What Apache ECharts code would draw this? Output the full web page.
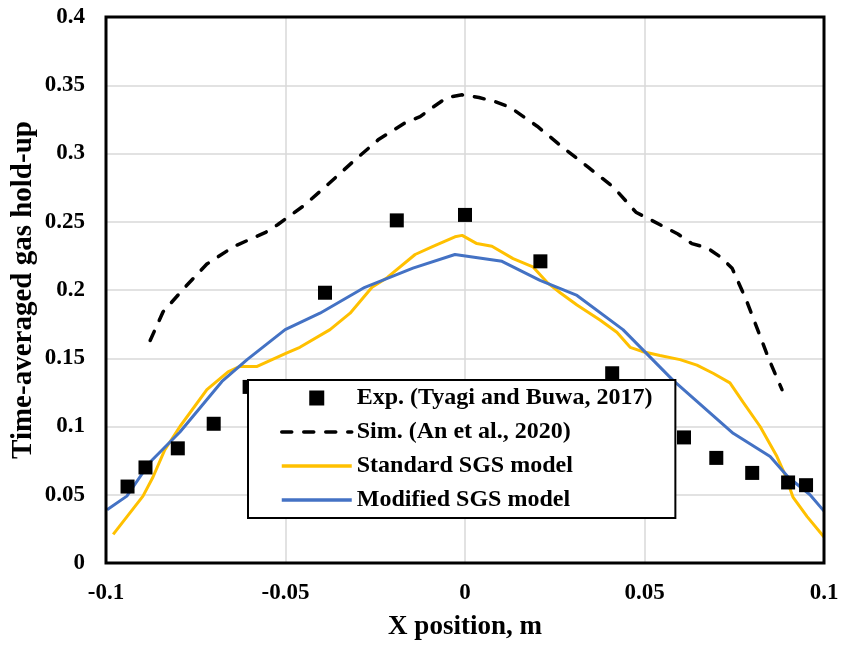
<!DOCTYPE html>
<html>
<head>
<meta charset="utf-8">
<script src="https://cdn.jsdelivr.net/npm/echarts@6/dist/echarts.min.js"></script>
<style>
  html, body { margin: 0; padding: 0; background: #fff; }
  #chart { width: 843px; height: 647px; }
</style>
</head>
<body>
<div id="chart"></div>
<script>
// Experimental gas hold-up profile (Tyagi and Buwa, 2017)
const expX = [-0.094, -0.089, -0.080, -0.070, -0.060, -0.039, -0.019, 0.000, 0.021, 0.041, 0.061, 0.070, 0.080, 0.090, 0.095];
const expY = [0.056, 0.070, 0.084, 0.102, 0.129, 0.198, 0.251, 0.255, 0.221, 0.139, 0.092, 0.077, 0.066, 0.059, 0.057];

// Earlier simulation (An et al., 2020)
const simX = [-0.0877, -0.0841, -0.0780, -0.0719, -0.0643, -0.0557, -0.0521, -0.0448, -0.0379, -0.0312, -0.0242, -0.0170, -0.0125, -0.0089, -0.0050, -0.0008,
              0.0039, 0.0084, 0.0125, 0.0201, 0.0270, 0.0343, 0.0415, 0.0476, 0.0513, 0.0593, 0.0632, 0.0674, 0.0713, 0.0744, 0.0783, 0.0847, 0.0883];
const simY = [0.163, 0.184, 0.202, 0.219, 0.232, 0.242, 0.248, 0.262, 0.278, 0.294, 0.310, 0.322, 0.327, 0.334, 0.341, 0.343,
              0.341, 0.338, 0.334, 0.320, 0.305, 0.290, 0.275, 0.257, 0.252, 0.241, 0.234, 0.231, 0.224, 0.216, 0.193, 0.149, 0.127];

// Standard SGS model
const stdX = [-0.0980, -0.0897, -0.0869, -0.0836, -0.0794, -0.0719, -0.0660, -0.0627, -0.0579, -0.0496, -0.0460, -0.0376, -0.0320, -0.0259, -0.0217, -0.0139, -0.0089, -0.0028, -0.0008,
              0.0033, 0.0075, 0.0134, 0.0189, 0.0231, 0.0265, 0.0312, 0.0376, 0.0423, 0.0460, 0.0493, 0.0543, 0.0599, 0.0646, 0.0691, 0.0738, 0.0774, 0.0822, 0.0869, 0.0891, 0.0914, 0.0953, 0.1000];
const stdY = [0.021, 0.049, 0.063, 0.083, 0.100, 0.127, 0.140, 0.144, 0.144, 0.154, 0.158, 0.171, 0.183, 0.202, 0.209, 0.226, 0.232, 0.239, 0.240,
              0.234, 0.232, 0.223, 0.217, 0.205, 0.198, 0.189, 0.178, 0.169, 0.158, 0.155, 0.152, 0.149, 0.145, 0.139, 0.132, 0.118, 0.100, 0.078, 0.065, 0.048, 0.034, 0.019];

// Modified SGS model
const modX = [-0.0997, -0.0942, -0.0877, -0.0794, -0.0677, -0.0607, -0.0501, -0.0404, -0.0279, -0.0145, -0.0028,
              0.0103, 0.0209, 0.0312, 0.0440, 0.0579, 0.0747, 0.0850, 0.0900, 0.0961, 0.1000];
const modY = [0.039, 0.049, 0.074, 0.096, 0.133, 0.149, 0.171, 0.183, 0.202, 0.216, 0.226,
              0.221, 0.207, 0.196, 0.171, 0.134, 0.095, 0.078, 0.063, 0.050, 0.038];

const seriesNames = ['Exp. (Tyagi and Buwa, 2017)', 'Sim. (An et al., 2020)', 'Standard SGS model', 'Modified SGS model'];
const xTicks = { min: -0.1, max: 0.1, step: 0.05 };
const yTicks = { min: 0, max: 0.4, step: 0.05 };

const pairs = (xs, ys) => xs.map((x, i) => [x, ys[i]]);
const serif = 'Liberation Serif';
const squareIcon = 'path://M0,0H10V10H0Z';

const chart = echarts.init(document.getElementById('chart'));
chart.setOption({
  animation: false,
  backgroundColor: '#fff',
  grid: {
    left: 106, right: 19, top: 17, bottom: 84,
    outerBoundsMode: 'none',
    show: true, borderColor: '#000', borderWidth: 3, backgroundColor: 'transparent', z: 3
  },
  xAxis: {
    type: 'value',
    min: xTicks.min, max: xTicks.max, interval: xTicks.step,
    name: 'X position, m',
    nameLocation: 'middle',
    nameGap: 51,
    nameTextStyle: { fontFamily: serif, fontWeight: 'bold', fontSize: 27, color: '#000' },
    axisLine: { show: false },
    axisTick: { show: false },
    axisLabel: { fontFamily: serif, fontWeight: 'bold', fontSize: 23, color: '#000', margin: 19 },
    splitLine: { show: true, showMinLine: false, showMaxLine: false, lineStyle: { color: '#d9d9d9', width: 1.5 } }
  },
  yAxis: {
    type: 'value',
    min: yTicks.min, max: yTicks.max, interval: yTicks.step,
    name: 'Time-averaged gas hold-up',
    nameLocation: 'middle',
    nameMoveOverlap: false,
    nameGap: 68,
    nameTextStyle: { fontFamily: serif, fontWeight: 'bold', fontSize: 29, color: '#000' },
    axisLine: { show: false },
    axisTick: { show: false },
    axisLabel: { fontFamily: serif, fontWeight: 'bold', fontSize: 23, color: '#000', margin: 21 },
    splitLine: { show: true, showMinLine: false, showMaxLine: false, lineStyle: { color: '#d9d9d9', width: 1.5 } }
  },
  legend: {
    orient: 'vertical',
    left: 248, top: 380,
    padding: [5, 23, 5, 32],
    itemWidth: 70,
    itemHeight: 15,
    itemGap: 8,
    itemTextGap: 7,
    symbolKeepAspect: true,
    backgroundColor: '#fff',
    borderColor: '#000',
    borderWidth: 2,
    borderRadius: 0,
    lineStyle: { width: 3.5 },
    textStyle: { fontFamily: serif, fontWeight: 'bold', fontSize: 24, color: '#000', lineHeight: 26 },
    data: [
      { name: seriesNames[0], icon: squareIcon, itemStyle: { color: '#000', opacity: 1 } },
      { name: seriesNames[1], itemStyle: { opacity: 0 } },
      { name: seriesNames[2], itemStyle: { opacity: 0 } },
      { name: seriesNames[3], itemStyle: { opacity: 0 } }
    ]
  },
  series: [
    {
      name: seriesNames[1], type: 'line', data: pairs(simX, simY),
      symbol: 'none', z: 2,
      lineStyle: { color: '#000', width: 3.5, type: [10, 12], cap: 'round' },
      itemStyle: { color: '#000' }
    },
    {
      name: seriesNames[2], type: 'line', data: pairs(stdX, stdY),
      symbol: 'none', z: 2,
      lineStyle: { color: '#FFC000', width: 3 },
      itemStyle: { color: '#FFC000' }
    },
    {
      name: seriesNames[3], type: 'line', data: pairs(modX, modY),
      symbol: 'none', z: 2,
      lineStyle: { color: '#4472C4', width: 3 },
      itemStyle: { color: '#4472C4' }
    },
    {
      name: seriesNames[0], type: 'scatter', data: pairs(expX, expY),
      symbol: 'rect', symbolSize: 14, z: 3,
      itemStyle: { color: '#000', opacity: 1 }
    }
  ]
});
</script>
</body>
</html>
